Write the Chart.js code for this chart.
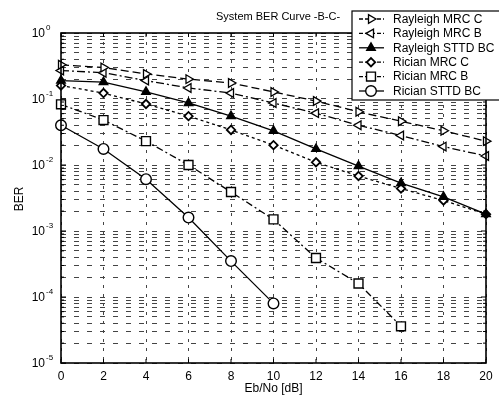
<!DOCTYPE html>
<html><head><meta charset="utf-8">
<style>html,body{margin:0;padding:0;background:#fff;}canvas{display:block;}</style>
<script src="https://cdn.jsdelivr.net/npm/chart.js@4/dist/chart.umd.min.js"></script>
</head><body>
<canvas id="c" width="499" height="396"></canvas>
<script>
// ---- data ----
const ebno = [0, 2, 4, 6, 8, 10, 12, 14, 16, 18, 20];
const rayleighMrcC  = [0.33, 0.30, 0.24, 0.20, 0.175, 0.128, 0.093, 0.064, 0.046, 0.033, 0.023];
const rayleighMrcB  = [0.27, 0.25, 0.19, 0.147, 0.123, 0.087, 0.061, 0.040, 0.028, 0.019, 0.0137];
const rayleighSttd  = [0.19, 0.18, 0.128, 0.087, 0.055, 0.033, 0.0175, 0.0096, 0.0053, 0.0033, 0.0018];
const ricianMrcC    = [0.16, 0.123, 0.084, 0.055, 0.034, 0.020, 0.011, 0.0068, 0.0044, 0.0029, 0.0018];
const ricianMrcB    = [0.083, 0.048, 0.023, 0.010, 0.0039, 0.0015, 0.00039, 0.00016, 0.000036];
const ricianSttd    = [0.040, 0.0175, 0.0061, 0.0016, 0.00035, 0.00008];
const seriesNames = ['Rayleigh MRC C', 'Rayleigh MRC B', 'Rayleigh STTD BC', 'Rician MRC C', 'Rician MRC B', 'Rician STTD BC'];
const seriesValues = [rayleighMrcC, rayleighMrcB, rayleighSttd, ricianMrcC, ricianMrcB, ricianSttd];
const xTickStep = 2;
const yDecades = [1, 0.1, 0.01, 0.001, 0.0001, 0.00001];
const yExponents = ['0', '-1', '-2', '-3', '-4', '-5'];
const titleText = 'System BER Curve -B-C-';
const xTitle = 'Eb/No [dB]';
const yTitle = 'BER';

// ---- styles ----
const FONT = "'Liberation Sans', Arial, Helvetica, sans-serif";
const styles = [
  {dash: [8, 4],       pointStyle: 'triangle', rotation: 90,  radius: 5,   fill: '#fff', bw: 1.3},
  {dash: [8, 3, 2, 3], pointStyle: 'triangle', rotation: -90, radius: 5,   fill: '#fff', bw: 1.3},
  {dash: [],           pointStyle: 'triangle', rotation: 0,   radius: 5,   fill: '#000', bw: 1.3},
  {dash: [3, 3],       pointStyle: 'rectRot',  rotation: 0,   radius: 4.2, fill: '#fff', bw: 1.8},
  {dash: [7, 3, 2, 3], pointStyle: 'rect',     rotation: 0,   radius: 6.3, fill: '#fff', bw: 1.4},
  {dash: [],           pointStyle: 'circle',   rotation: 0,   radius: 5.3, fill: '#fff', bw: 1.4}
];

const datasets = seriesNames.map((name, i) => ({
  label: name,
  data: seriesValues[i].map((v, j) => ({x: ebno[j], y: v})),
  borderColor: '#000',
  borderWidth: 1.3,
  borderDash: styles[i].dash,
  pointStyle: styles[i].pointStyle,
  rotation: styles[i].rotation,
  pointRadius: styles[i].radius,
  pointBackgroundColor: styles[i].fill,
  pointBorderColor: '#000',
  pointBorderWidth: styles[i].bw,
  fill: false,
  tension: 0,
  clip: false
}));

const decor = {
  id: 'decor',
  afterDraw(chart) {
    const {ctx, chartArea: a, scales: {x, y}} = chart;
    const H = Chart.helpers;
    ctx.save();
    ctx.setLineDash([]);
    // frame
    ctx.strokeStyle = '#000';
    ctx.lineWidth = 1.6;
    ctx.strokeRect(a.left, a.top, a.right - a.left, a.bottom - a.top);
    // inward tick marks
    ctx.lineWidth = 1;
    ctx.beginPath();
    x.ticks.forEach(t => {
      const px = x.getPixelForValue(t.value);
      ctx.moveTo(px, a.bottom); ctx.lineTo(px, a.bottom - 4);
      ctx.moveTo(px, a.top); ctx.lineTo(px, a.top + 4);
    });
    y.ticks.forEach(t => {
      const py = y.getPixelForValue(t.value);
      const len = yDecades.some(d => Math.abs(d - t.value) < d * 1e-6) ? 5 : 3;
      ctx.moveTo(a.left, py); ctx.lineTo(a.left + len, py);
      ctx.moveTo(a.right, py); ctx.lineTo(a.right - len, py);
    });
    ctx.stroke();
    // y tick labels with superscript exponents
    ctx.fillStyle = '#000';
    ctx.textBaseline = 'middle';
    yDecades.forEach((v, i) => {
      const py = y.getPixelForValue(v);
      ctx.font = '12px ' + FONT;
      ctx.textAlign = 'right';
      ctx.fillText('10', 45, py + 1);
      ctx.font = '8px ' + FONT;
      ctx.textAlign = 'left';
      ctx.fillText(yExponents[i], 46, py - 5);
    });
    // axis titles
    ctx.font = '12px ' + FONT;
    ctx.textAlign = 'center';
    ctx.fillText(xTitle, (a.left + a.right) / 2, 389);
    ctx.save();
    ctx.translate(20, 199);
    ctx.rotate(-Math.PI / 2);
    ctx.fillText(yTitle, 0, 0);
    ctx.restore();
    // title
    ctx.font = '11px ' + FONT;
    ctx.textAlign = 'left';
    ctx.fillText(titleText, 216, 17);
    // legend
    const lx = 352, ly = 11, lw = 160, lh = 89;
    ctx.fillStyle = '#fff';
    ctx.fillRect(lx, ly, lw, lh);
    ctx.strokeStyle = '#000';
    ctx.lineWidth = 1.2;
    ctx.strokeRect(lx, ly, lw, lh);
    seriesNames.forEach((name, i) => {
      const ry = 19 + i * 14.4;
      const st = styles[i];
      ctx.lineWidth = 1.3;
      ctx.strokeStyle = '#000';
      ctx.setLineDash(st.dash.length ? [4, 2] : []);
      ctx.beginPath(); ctx.moveTo(359, ry); ctx.lineTo(384, ry); ctx.stroke();
      ctx.setLineDash([]);
      ctx.fillStyle = st.fill;
      ctx.lineWidth = st.bw;
      H.drawPoint(ctx, {pointStyle: st.pointStyle, rotation: st.rotation, radius: st.radius, borderWidth: st.bw}, 371, ry);
      ctx.fillStyle = '#000';
      ctx.font = '12px ' + FONT;
      ctx.textAlign = 'left';
      ctx.textBaseline = 'middle';
      ctx.fillText(name, 393, ry + 0.5);
    });
    ctx.restore();
  }
};

new Chart(document.getElementById('c'), {
  type: 'line',
  data: {datasets},
  options: {
    responsive: false,
    animation: false,
    events: [],
    layout: {padding: {top: 33, right: 13, left: 0, bottom: 0}},
    plugins: {legend: {display: false}, title: {display: false}, tooltip: {enabled: false}},
    scales: {
      x: {
        type: 'linear', min: 0, max: 20,
        ticks: {stepSize: xTickStep, color: '#000', font: {family: FONT, size: 12}, padding: 6, maxRotation: 0, autoSkip: false},
        grid: {color: '#444', lineWidth: 1, drawTicks: false},
        border: {display: false, dash: [3, 6]},
        afterFit(s) { s.height = 33; }
      },
      y: {
        type: 'logarithmic', min: 1e-5, max: 1,
        afterBuildTicks(s) {
          const t = [];
          for (let e = -5; e <= 0; e++) {
            for (let m = 1; m <= 9; m++) {
              const v = m * Math.pow(10, e);
              if (v <= 1.0000001) t.push({value: v});
            }
          }
          s.ticks = t;
        },
        ticks: {display: false},
        grid: {color: '#444', lineWidth: 1, drawTicks: false},
        border: {display: false, dash: [5, 8]},
        afterFit(s) { s.width = 61; }
      }
    }
  },
  plugins: [decor]
});
</script>
</body></html>
